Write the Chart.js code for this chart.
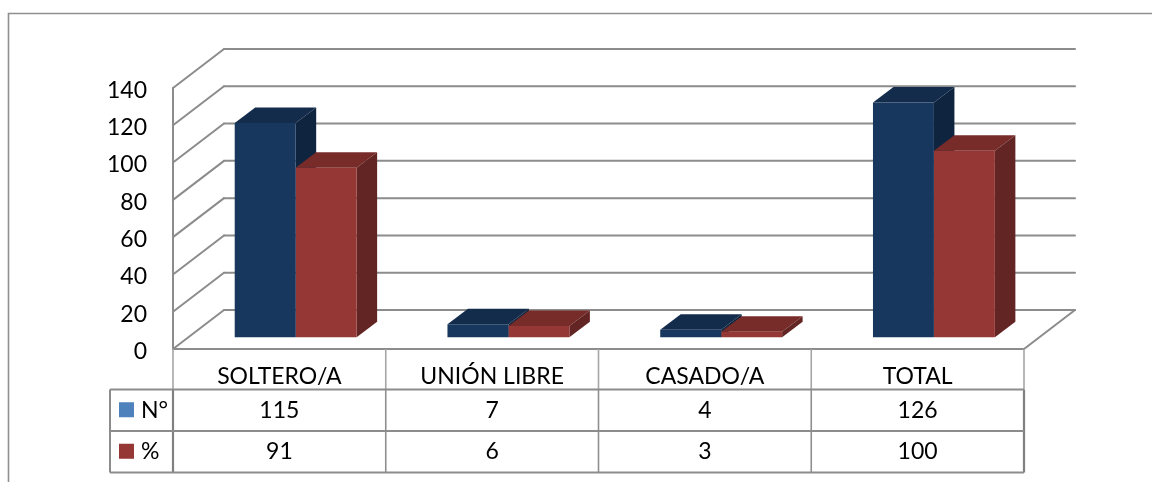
<!DOCTYPE html>
<html>
<head>
<meta charset="utf-8">
<script src="https://cdn.jsdelivr.net/npm/chart.js@4/dist/chart.umd.min.js"></script>
<style>
    body { margin: 0; background: #fff; }
    canvas { display: block; filter: blur(0.35px); }
</style>
</head>
<body>
<canvas id="chart" width="1152" height="482"></canvas>
<script>
const categories = ['SOLTERO/A', 'UNIÓN LIBRE', 'CASADO/A', 'TOTAL'];
const numero = [115, 7, 4, 126];
const porcentaje = [91, 6, 3, 100];
const yTicks = [0, 20, 40, 60, 80, 100, 120, 140];

const font = 'Lato, Carlito, sans-serif';
const fontSize = 23;
const lineColor = '#8c8c8c';

// fake 3D: wall depth, how far the bars sit in from the front, bar depth
const wall = { dx: 51, dy: -39 };
const inset = { dx: 16.3, dy: -11.7 };
const depth = { dx: 20.5, dy: -15.5 };

const faces = [
    { top: '#142c4c', side: '#0f243e', swatch: '#4f81bd' },
    { top: '#772c2a', side: '#632523', swatch: '#953735' }
];

function line(ctx, x1, y1, x2, y2, color, width) {
    ctx.strokeStyle = color || lineColor;
    ctx.lineWidth = width || 2;
    ctx.beginPath();
    ctx.moveTo(x1, y1);
    ctx.lineTo(x2, y2);
    ctx.stroke();
}

function poly(ctx, color, pts) {
    ctx.fillStyle = color;
    ctx.beginPath();
    pts.forEach((p, i) => i ? ctx.lineTo(p[0], p[1]) : ctx.moveTo(p[0], p[1]));
    ctx.closePath();
    ctx.fill();
}

const depthPlugin = {
    id: 'depth',
    beforeDraw(chart) {
        const ctx = chart.ctx;
        ctx.save();
        ctx.fillStyle = '#fff';
        ctx.fillRect(0, 0, chart.width, chart.height);
        // outer frame, cut off by the picture on the right and at the bottom
        ctx.strokeStyle = '#909090';
        ctx.lineWidth = 1.6;
        ctx.beginPath();
        ctx.moveTo(8.5, chart.height);
        ctx.lineTo(8.5, 13.5);
        ctx.lineTo(chart.width, 13.5);
        ctx.stroke();
        ctx.restore();

        // y labels sit a little below their gridline end in the reference
        chart.scales.y.getLabelItems(chart.chartArea).forEach(item => {
            if (!item.nudged) {
                item.options.translation[1] += 2.5;
                item.nudged = true;
            }
        });
    },
    beforeDatasetsDraw(chart) {
        const ctx = chart.ctx;
        const area = chart.chartArea;
        const y = chart.scales.y;
        ctx.save();
        ctx.lineCap = 'round';

        yTicks.forEach(v => {
            const py = y.getPixelForValue(v);
            line(ctx, area.left, py, area.left + wall.dx, py + wall.dy);
            line(ctx, area.left + wall.dx, py + wall.dy, area.right + wall.dx, py + wall.dy);
        });
        line(ctx, area.left, area.top, area.left, area.bottom);
        line(ctx, area.left, area.bottom, area.right, area.bottom);
        line(ctx, area.right, area.bottom, area.right + wall.dx, area.bottom + wall.dy);

        // top and side faces of the bars, blue first so red covers its side
        chart.data.datasets.forEach((ds, d) => {
            chart.getDatasetMeta(d).data.forEach(bar => {
                const l = bar.x - bar.width / 2 + inset.dx;
                const r = bar.x + bar.width / 2 + inset.dx;
                const t = bar.y + inset.dy;
                const b = bar.base + inset.dy;
                poly(ctx, faces[d].top, [[l, t], [r, t], [r + depth.dx, t + depth.dy], [l + depth.dx, t + depth.dy]]);
                poly(ctx, faces[d].side, [[r, t], [r + depth.dx, t + depth.dy], [r + depth.dx, b + depth.dy], [r, b]]);
            });
        });
        ctx.restore();

        ctx.save();
        ctx.translate(inset.dx, inset.dy);
    },
    afterDatasetsDraw(chart) {
        chart.ctx.restore();
    },
    afterDraw(chart) {
        const ctx = chart.ctx;
        const area = chart.chartArea;
        const rows = [389.5, 431, 472.5];
        const keyLeft = 110;
        const colW = area.width / categories.length;

        ctx.save();
        // header cells have lighter dividers
        for (let i = 0; i <= categories.length; i++) {
            const x = area.left + colW * i;
            const outer = i === 0 || i === categories.length;
            line(ctx, x, area.bottom, x, rows[0], '#a6a6a6', 1.6);
            line(ctx, x, rows[0], x, rows[2], outer ? '#808080' : '#8f8f8f', outer ? 2.2 : 1.6);
        }
        rows.forEach(r => line(ctx, keyLeft, r, area.right, r));
        line(ctx, keyLeft, rows[0], keyLeft, rows[2]);

        ctx.font = fontSize + 'px ' + font;
        ctx.textBaseline = 'middle';
        chart.data.datasets.forEach((ds, d) => {
            const rowMid = (rows[d] + rows[d + 1]) / 2;
            ctx.fillStyle = faces[d].swatch;
            ctx.fillRect(119, rowMid - 8, 15, 15);
            ctx.fillStyle = '#000';
            ctx.textAlign = 'left';
            ctx.fillText(ds.label, 141, rowMid);
            ctx.textAlign = 'center';
            ds.data.forEach((v, i) => ctx.fillText(v, area.left + colW * (i + 0.5), rowMid));
        });
        ctx.restore();
    }
};

new Chart(document.getElementById('chart'), {
    type: 'bar',
    data: {
        labels: categories,
        datasets: [
            { label: 'N°', data: numero, backgroundColor: '#17375e', clip: false },
            { label: '%', data: porcentaje, backgroundColor: '#953735', clip: false }
        ]
    },
    options: {
        responsive: false,
        animation: false,
        layout: { padding: { top: 88, right: 128, left: 0, bottom: 0 } },
        datasets: { bar: { categoryPercentage: 0.573, barPercentage: 1 } },
        plugins: { legend: { display: false }, tooltip: { enabled: false } },
        scales: {
            x: {
                grid: { display: false },
                border: { display: false },
                ticks: { color: '#000', font: { family: font, size: fontSize }, padding: 6, maxRotation: 0 },
                afterFit(scale) { scale.height = 133; }
            },
            y: {
                min: 0,
                max: 140,
                grid: { display: false },
                border: { display: false },
                ticks: { color: '#000', stepSize: 20, font: { family: font, size: fontSize }, padding: 18 },
                afterFit(scale) { scale.width = 173; }
            }
        }
    },
    plugins: [depthPlugin]
});
</script>
</body>
</html>
